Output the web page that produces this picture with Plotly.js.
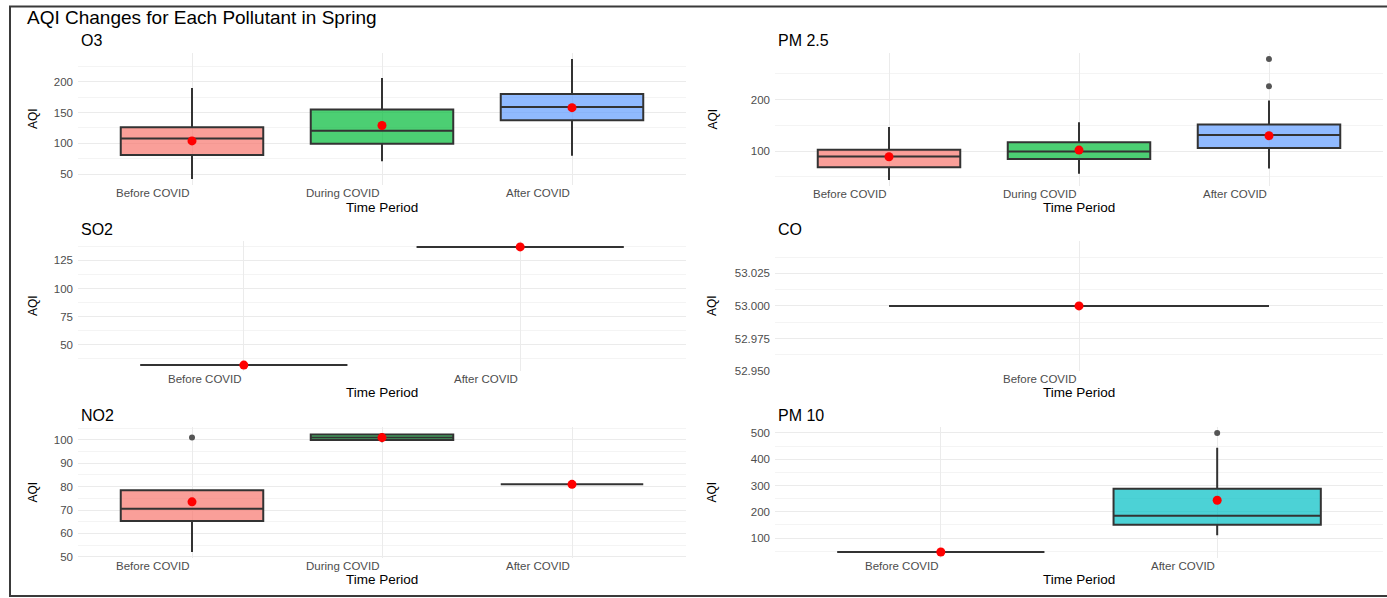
<!DOCTYPE html>
<html>
<head>
<meta charset="utf-8">
<script src="https://cdn.plot.ly/plotly-3.0.1.min.js"></script>
<style>
  html, body { margin: 0; padding: 0; background: #ffffff; }
  #chart { width: 1387px; height: 598px; }
</style>
</head>
<body>
<div id="chart"></div>
<script>
// ---------------- DATA ----------------
const chartTitle = "AQI Changes for Each Pollutant in Spring";
const xTitle = "Time Period";
const yTitle = "AQI";

const periods3 = ["Before COVID", "During COVID", "After COVID"];
const periods2 = ["Before COVID", "After COVID"];
const periods1 = ["Before COVID"];

// O3
const o3_q1     = [81, 99.5, 137.5];
const o3_median = [108, 120.5, 159];
const o3_q3     = [126, 155, 180];
const o3_low    = [42, 71, 80];
const o3_high   = [190, 206, 237];
const o3_mean   = [104, 129, 158];
const o3_outX   = [];
const o3_outY   = [];

// PM 2.5
const pm25_q1     = [68.5, 84.5, 106];
const pm25_median = [89.7, 99.4, 131.5];
const pm25_q3     = [102.5, 117.4, 152];
const pm25_low    = [44, 56, 66.5];
const pm25_high   = [147, 156, 198.6];
const pm25_mean   = [89, 102, 130];
const pm25_outX   = ["After COVID", "After COVID"];
const pm25_outY   = [226, 279];

// SO2
const so2_q1     = [32, 137];
const so2_median = [32, 137];
const so2_q3     = [32, 137];
const so2_low    = [32, 137];
const so2_high   = [32, 137];
const so2_mean   = [32, 137];
const so2_outX   = [];
const so2_outY   = [];

// CO
const co_q1     = [53];
const co_median = [53];
const co_q3     = [53];
const co_low    = [53];
const co_high   = [53];
const co_mean   = [53];
const co_outX   = [];
const co_outY   = [];

// NO2
const no2_q1     = [65.3, 100, 81];
const no2_median = [70.5, 101, 81];
const no2_q3     = [78.5, 102.3, 81];
const no2_low    = [52, 99, 81];
const no2_high   = [78.5, 103, 81];
const no2_mean   = [73.5, 101, 81];
const no2_outX   = ["Before COVID"];
const no2_outY   = [101];

// PM 10
const pm10_q1     = [47, 151];
const pm10_median = [47, 185];
const pm10_q3     = [47, 287.5];
const pm10_low    = [47, 111];
const pm10_high   = [47, 444];
const pm10_mean   = [47, 244];
const pm10_outX   = ["After COVID"];
const pm10_outY   = [500];

// ---------------- STYLE / LAYOUT ----------------
const W = 1387, H = 598;
const FONT = "Liberation Sans, Arial, sans-serif";
const fillBefore = "rgba(248,118,109,0.7)";
const fillDuring = "rgba(0,186,56,0.7)";
const fillAfter  = "rgba(97,156,255,0.7)";
const fillCyan   = "rgba(0,191,196,0.7)";

const panels = [
  {name: "O3", cats: periods3, q1: o3_q1, med: o3_median, q3: o3_q3, lo: o3_low, hi: o3_high, mean: o3_mean, outX: o3_outX, outY: o3_outY,
   fills: [fillBefore, fillDuring, fillAfter], px: [78, 686], py: [53, 185], yr: [32.3, 246.8], tick0: 0, dtick: 50, minor: 25, fmt: "", titleY: 41, xtY: 207.5, ytX: 33},
  {name: "PM 2.5", cats: periods3, q1: pm25_q1, med: pm25_median, q3: pm25_q3, lo: pm25_low, hi: pm25_high, mean: pm25_mean, outX: pm25_outX, outY: pm25_outY,
   fills: [fillBefore, fillDuring, fillAfter], px: [775, 1383], py: [53, 186], yr: [32.25, 290.75], tick0: 0, dtick: 100, minor: 50, fmt: "", titleY: 41, xtY: 207.5, ytX: 712},
  {name: "SO2", cats: periods2, q1: so2_q1, med: so2_median, q3: so2_q3, lo: so2_low, hi: so2_high, mean: so2_mean, outX: so2_outX, outY: so2_outY,
   fills: [fillBefore, fillAfter], px: [78, 686], py: [241, 371], yr: [26.75, 142.25], tick0: 0, dtick: 25, minor: 12.5, fmt: "", titleY: 229, xtY: 392.5, ytX: 33},
  {name: "CO", cats: periods1, q1: co_q1, med: co_median, q3: co_q3, lo: co_low, hi: co_high, mean: co_mean, outX: co_outX, outY: co_outY,
   fills: [fillBefore], px: [775, 1383], py: [241, 371], yr: [52.95, 53.0499], tick0: 52.95, dtick: 0.025, minor: 0.0125, fmt: ".3f", titleY: 229, xtY: 392.5, ytX: 712},
  {name: "NO2", cats: periods3, q1: no2_q1, med: no2_median, q3: no2_q3, lo: no2_low, hi: no2_high, mean: no2_mean, outX: no2_outX, outY: no2_outY,
   fills: [fillBefore, fillDuring, fillAfter], px: [78, 686], py: [427, 558], yr: [49.45, 105.55], tick0: 0, dtick: 10, minor: 5, fmt: "", titleY: 415, xtY: 579.5, ytX: 33},
  {name: "PM 10", cats: periods2, q1: pm10_q1, med: pm10_median, q3: pm10_q3, lo: pm10_low, hi: pm10_high, mean: pm10_mean, outX: pm10_outX, outY: pm10_outY,
   fills: [fillBefore, fillCyan], px: [775, 1383], py: [427, 558], yr: [24.35, 522.65], tick0: 0, dtick: 100, minor: 50, fmt: "", titleY: 415, xtY: 579.5, ytX: 712}
];

const traces = [];
const layout = {
  width: W, height: H,
  margin: {l: 0, r: 0, t: 0, b: 0},
  paper_bgcolor: "#ffffff",
  plot_bgcolor: "#ffffff",
  showlegend: false,
  boxmode: "overlay",
  font: {family: FONT, color: "#000000"},
  title: {text: chartTitle, x: 27 / W, xanchor: "left", xref: "paper",
          y: 1 - 17 / H, yanchor: "middle", yref: "paper",
          font: {family: FONT, size: 19, color: "#000000"}},
  annotations: [],
  shapes: [{type: "rect", xref: "paper", yref: "paper",
            x0: 10 / W, x1: 1.05, y0: 1 - 596 / H, y1: 1 - 6.5 / H,
            line: {color: "#3a3a3a", width: 2}, fillcolor: "rgba(0,0,0,0)", layer: "above"}]
};

panels.forEach((p, i) => {
  const n = i + 1;
  const xa = n === 1 ? "x" : "x" + n;
  const ya = n === 1 ? "y" : "y" + n;
  const xk = n === 1 ? "xaxis" : "xaxis" + n;
  const yk = n === 1 ? "yaxis" : "yaxis" + n;

  layout[xk] = {
    domain: [p.px[0] / W, p.px[1] / W], anchor: ya,
    type: "category", categoryorder: "array", categoryarray: p.cats,
    range: [-0.6, p.cats.length - 0.4],
    showgrid: true, gridcolor: "#EBEBEB", gridwidth: 1,
    showticklabels: false, ticks: "", zeroline: false, showline: false, fixedrange: true
  };
  layout[yk] = {
    domain: [1 - p.py[1] / H, 1 - p.py[0] / H], anchor: xa,
    range: p.yr, tick0: p.tick0, dtick: p.dtick, tickformat: p.fmt,
    showgrid: true, gridcolor: "#EBEBEB", gridwidth: 1,
    minor: {dtick: p.minor, showgrid: true, gridcolor: "#F4F4F4", gridwidth: 1},
    ticks: "", ticklabelstandoff: 4, zeroline: false, showline: false,
    tickfont: {family: FONT, size: 11.5, color: "#4D4D4D"}, fixedrange: true
  };

  // boxes, one trace per period so each gets its own fill
  p.cats.forEach((c, k) => {
    traces.push({
      type: "box", xaxis: xa, yaxis: ya,
      x: [c], q1: [p.q1[k]], median: [p.med[k]], q3: [p.q3[k]],
      lowerfence: [p.lo[k]], upperfence: [p.hi[k]],
      width: 0.75, whiskerwidth: 0, boxpoints: false,
      fillcolor: p.fills[k], line: {color: "#333333", width: 2},
      hoverinfo: "skip", showlegend: false
    });
  });
  // outliers
  if (p.outY.length) {
    traces.push({
      type: "scatter", mode: "markers", xaxis: xa, yaxis: ya,
      x: p.outX, y: p.outY,
      marker: {color: "#555555", size: 6}, hoverinfo: "skip", showlegend: false
    });
  }
  // means
  traces.push({
    type: "scatter", mode: "markers", xaxis: xa, yaxis: ya,
    x: p.cats, y: p.mean,
    marker: {color: "#FF0000", size: 9}, hoverinfo: "skip", showlegend: false
  });

  // panel subtitle
  layout.annotations.push({
    text: p.name, xref: "paper", yref: "paper",
    x: (p.px[0] + 1) / W, y: 1 - p.titleY / H, xanchor: "left", yanchor: "middle",
    showarrow: false, font: {family: FONT, size: 16, color: "#000000"}
  });
  // category labels (right-aligned on each category, as in the reference)
  p.cats.forEach((c, k) => {
    layout.annotations.push({
      text: c, xref: xa, yref: "paper",
      x: k, y: 1 - (p.py[1] + 8) / H, xanchor: "right", yanchor: "middle",
      showarrow: false, font: {family: FONT, size: 11.5, color: "#4D4D4D"}
    });
  });
  // x axis title
  layout.annotations.push({
    text: xTitle, xref: "paper", yref: "paper",
    x: (p.px[0] + p.px[1]) / 2 / W, y: 1 - p.xtY / H, xanchor: "center", yanchor: "middle",
    showarrow: false, font: {family: FONT, size: 13.5, color: "#000000"}
  });
  // y axis title
  layout.annotations.push({
    text: yTitle, xref: "paper", yref: "paper", textangle: -90,
    x: p.ytX / W, y: 1 - (p.py[0] + p.py[1]) / 2 / H, xanchor: "center", yanchor: "middle",
    showarrow: false, font: {family: FONT, size: 12, color: "#000000"}
  });
});

Plotly.newPlot("chart", traces, layout, {staticPlot: true, displayModeBar: false});
</script>
</body>
</html>
